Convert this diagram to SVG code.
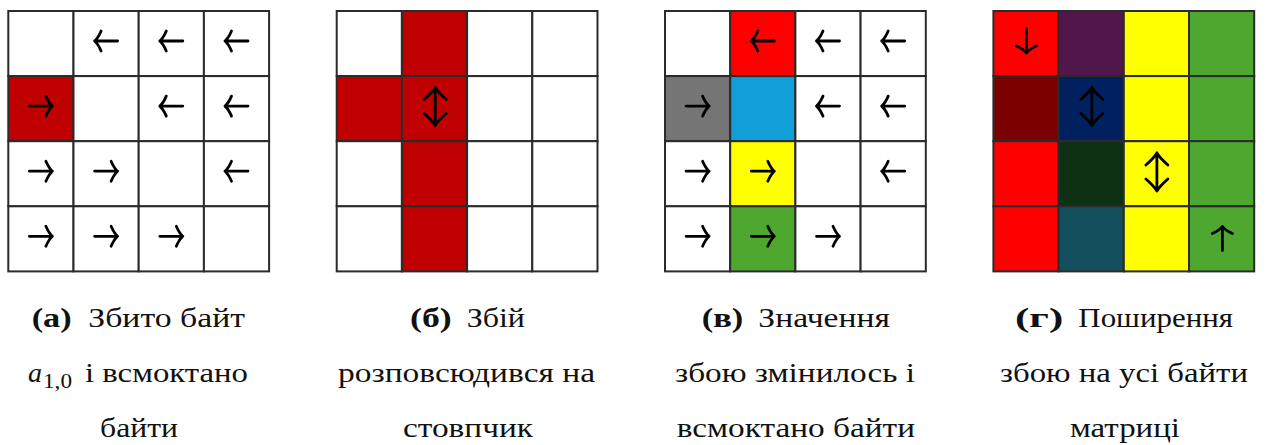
<svg xmlns="http://www.w3.org/2000/svg" width="1267" height="445" viewBox="0 0 1267 445">
  <style>
    .cell { stroke: #2b2b2b; stroke-width: 2; fill: #ffffff; }
    .arr { fill: none; stroke: #000000; stroke-width: 2.8; stroke-linecap: round; stroke-linejoin: round; }
    .cap text { font-family: 'Liberation Serif', 'DejaVu Serif', serif; font-size: 28px; fill: #111111; }
    .cap .lbl { font-weight: bold; }
    .cap .it { font-style: italic; }
    .cap .sub { font-size: 20px; }
  </style>
  <defs>
    <!-- arrow glyphs centred on the origin -->
    <path id="al" class="arr" d="M-5,-10 Q-8,-3 -11.5,0 Q-8,3 -5,10 M-11.5,0 H11.5"/>
    <path id="ar" class="arr" d="M5,-10 Q8,-3 11.5,0 Q8,3 5,10 M11.5,0 H-11.5"/>
    <path id="ad" class="arr" d="M-10,5 Q-3,8 0,12 Q3,8 10,5 M0,12 V-12"/>
    <path id="au" class="arr" d="M-10,-5 Q-3,-8 0,-12 Q3,-8 10,-5 M0,-12 V12"/>
    <path id="av" class="arr" d="M-11,-7 Q-3,-14 0,-19 Q3,-14 11,-7 M-11,7 Q-3,14 0,19 Q3,14 11,7 M0,-19 V19"/>
  </defs>

  <!-- panel (а): faulty byte a1,0 -->
  <g id="panel-a" transform="translate(8.3,11)">
    <g id="grid-a">
      <rect class="cell" x="0" y="0" width="65.2" height="65.1"/>
      <rect class="cell" x="65.2" y="0" width="65.2" height="65.1"/>
      <rect class="cell" x="130.4" y="0" width="65.2" height="65.1"/>
      <rect class="cell" x="195.6" y="0" width="65.2" height="65.1"/>
      <rect class="cell" x="0" y="65.1" width="65.2" height="65.1" style="fill:#c00000"/>
      <rect class="cell" x="65.2" y="65.1" width="65.2" height="65.1"/>
      <rect class="cell" x="130.4" y="65.1" width="65.2" height="65.1"/>
      <rect class="cell" x="195.6" y="65.1" width="65.2" height="65.1"/>
      <rect class="cell" x="0" y="130.2" width="65.2" height="65.1"/>
      <rect class="cell" x="65.2" y="130.2" width="65.2" height="65.1"/>
      <rect class="cell" x="130.4" y="130.2" width="65.2" height="65.1"/>
      <rect class="cell" x="195.6" y="130.2" width="65.2" height="65.1"/>
      <rect class="cell" x="0" y="195.3" width="65.2" height="65.1"/>
      <rect class="cell" x="65.2" y="195.3" width="65.2" height="65.1"/>
      <rect class="cell" x="130.4" y="195.3" width="65.2" height="65.1"/>
      <rect class="cell" x="195.6" y="195.3" width="65.2" height="65.1"/>
    </g>
    <g id="arrows-a">
      <use href="#al" x="97.8" y="30"/>
      <use href="#al" x="163" y="30"/>
      <use href="#al" x="228.2" y="30"/>
      <use href="#ar" x="32.6" y="95.1"/>
      <use href="#al" x="163" y="95.1"/>
      <use href="#al" x="228.2" y="95.1"/>
      <use href="#ar" x="32.6" y="160.2"/>
      <use href="#ar" x="97.8" y="160.2"/>
      <use href="#al" x="228.2" y="160.2"/>
      <use href="#ar" x="32.6" y="225.3"/>
      <use href="#ar" x="97.8" y="225.3"/>
      <use href="#ar" x="163" y="225.3"/>
    </g>
  </g>
  <g id="caption-a" class="cap">
    <text x="31.7" y="327" class="lbl" textLength="40" lengthAdjust="spacingAndGlyphs">(а)</text>
    <text x="88.3" y="327" textLength="156.7" lengthAdjust="spacingAndGlyphs">Збито байт</text>
    <text x="28" y="382" class="it" textLength="14" lengthAdjust="spacingAndGlyphs">a</text>
    <text x="43" y="388" class="sub" textLength="29" lengthAdjust="spacingAndGlyphs">1,0</text>
    <text x="85" y="382" textLength="163" lengthAdjust="spacingAndGlyphs">і всмоктано</text>
    <text x="100" y="437" textLength="78" lengthAdjust="spacingAndGlyphs">байти</text>
  </g>

  <!-- panel (б): fault spread over the column -->
  <g id="panel-b" transform="translate(336.7,11)">
    <g id="grid-b">
      <rect class="cell" x="0" y="0" width="65.2" height="65.1"/>
      <rect class="cell" x="65.2" y="0" width="65.2" height="65.1" style="fill:#c00000"/>
      <rect class="cell" x="130.4" y="0" width="65.2" height="65.1"/>
      <rect class="cell" x="195.6" y="0" width="65.2" height="65.1"/>
      <rect class="cell" x="0" y="65.1" width="65.2" height="65.1" style="fill:#c00000"/>
      <rect class="cell" x="65.2" y="65.1" width="65.2" height="65.1" style="fill:#c00000"/>
      <rect class="cell" x="130.4" y="65.1" width="65.2" height="65.1"/>
      <rect class="cell" x="195.6" y="65.1" width="65.2" height="65.1"/>
      <rect class="cell" x="0" y="130.2" width="65.2" height="65.1"/>
      <rect class="cell" x="65.2" y="130.2" width="65.2" height="65.1" style="fill:#c00000"/>
      <rect class="cell" x="130.4" y="130.2" width="65.2" height="65.1"/>
      <rect class="cell" x="195.6" y="130.2" width="65.2" height="65.1"/>
      <rect class="cell" x="0" y="195.3" width="65.2" height="65.1"/>
      <rect class="cell" x="65.2" y="195.3" width="65.2" height="65.1" style="fill:#c00000"/>
      <rect class="cell" x="130.4" y="195.3" width="65.2" height="65.1"/>
      <rect class="cell" x="195.6" y="195.3" width="65.2" height="65.1"/>
    </g>
    <g id="arrows-b">
      <use href="#av" x="98.5" y="95.5"/>
    </g>
  </g>
  <g id="caption-b" class="cap">
    <text x="410" y="327" class="lbl" textLength="41.7" lengthAdjust="spacingAndGlyphs">(б)</text>
    <text x="466.7" y="327" textLength="58.3" lengthAdjust="spacingAndGlyphs">Збій</text>
    <text x="338" y="382" textLength="257" lengthAdjust="spacingAndGlyphs">розповсюдився на</text>
    <text x="403" y="437" textLength="130" lengthAdjust="spacingAndGlyphs">стовпчик</text>
  </g>

  <!-- panel (в): fault value changed -->
  <g id="panel-c" transform="translate(665,11)">
    <g id="grid-c">
      <rect class="cell" x="0" y="0" width="65.2" height="65.1"/>
      <rect class="cell" x="65.2" y="0" width="65.2" height="65.1" style="fill:#ff0000"/>
      <rect class="cell" x="130.4" y="0" width="65.2" height="65.1"/>
      <rect class="cell" x="195.6" y="0" width="65.2" height="65.1"/>
      <rect class="cell" x="0" y="65.1" width="65.2" height="65.1" style="fill:#757575"/>
      <rect class="cell" x="65.2" y="65.1" width="65.2" height="65.1" style="fill:#129ed6"/>
      <rect class="cell" x="130.4" y="65.1" width="65.2" height="65.1"/>
      <rect class="cell" x="195.6" y="65.1" width="65.2" height="65.1"/>
      <rect class="cell" x="0" y="130.2" width="65.2" height="65.1"/>
      <rect class="cell" x="65.2" y="130.2" width="65.2" height="65.1" style="fill:#ffff00"/>
      <rect class="cell" x="130.4" y="130.2" width="65.2" height="65.1"/>
      <rect class="cell" x="195.6" y="130.2" width="65.2" height="65.1"/>
      <rect class="cell" x="0" y="195.3" width="65.2" height="65.1"/>
      <rect class="cell" x="65.2" y="195.3" width="65.2" height="65.1" style="fill:#4ea72e"/>
      <rect class="cell" x="130.4" y="195.3" width="65.2" height="65.1"/>
      <rect class="cell" x="195.6" y="195.3" width="65.2" height="65.1"/>
    </g>
    <g id="arrows-c">
      <use href="#al" x="97.8" y="30"/>
      <use href="#al" x="163" y="30"/>
      <use href="#al" x="228.2" y="30"/>
      <use href="#ar" x="32.6" y="95.1"/>
      <use href="#al" x="163" y="95.1"/>
      <use href="#al" x="228.2" y="95.1"/>
      <use href="#ar" x="32.6" y="160.2"/>
      <use href="#ar" x="97.8" y="160.2"/>
      <use href="#al" x="228.2" y="160.2"/>
      <use href="#ar" x="32.6" y="225.3"/>
      <use href="#ar" x="97.8" y="225.3"/>
      <use href="#ar" x="163" y="225.3"/>
    </g>
  </g>
  <g id="caption-c" class="cap">
    <text x="701.7" y="327" class="lbl" textLength="41.6" lengthAdjust="spacingAndGlyphs">(в)</text>
    <text x="758.3" y="327" textLength="131.7" lengthAdjust="spacingAndGlyphs">Значення</text>
    <text x="675" y="382" textLength="240" lengthAdjust="spacingAndGlyphs">збою змінилось і</text>
    <text x="676.7" y="437" textLength="238.3" lengthAdjust="spacingAndGlyphs">всмоктано байти</text>
  </g>

  <!-- panel (г): fault spread over the whole matrix -->
  <g id="panel-d" transform="translate(993.4,11)">
    <g id="grid-d">
      <rect class="cell" x="0" y="0" width="65.2" height="65.1" style="fill:#ff0000"/>
      <rect class="cell" x="65.2" y="0" width="65.2" height="65.1" style="fill:#51174a"/>
      <rect class="cell" x="130.4" y="0" width="65.2" height="65.1" style="fill:#ffff00"/>
      <rect class="cell" x="195.6" y="0" width="65.2" height="65.1" style="fill:#4ea72e"/>
      <rect class="cell" x="0" y="65.1" width="65.2" height="65.1" style="fill:#7b0000"/>
      <rect class="cell" x="65.2" y="65.1" width="65.2" height="65.1" style="fill:#002060"/>
      <rect class="cell" x="130.4" y="65.1" width="65.2" height="65.1" style="fill:#ffff00"/>
      <rect class="cell" x="195.6" y="65.1" width="65.2" height="65.1" style="fill:#4ea72e"/>
      <rect class="cell" x="0" y="130.2" width="65.2" height="65.1" style="fill:#ff0000"/>
      <rect class="cell" x="65.2" y="130.2" width="65.2" height="65.1" style="fill:#0d3012"/>
      <rect class="cell" x="130.4" y="130.2" width="65.2" height="65.1" style="fill:#ffff00"/>
      <rect class="cell" x="195.6" y="130.2" width="65.2" height="65.1" style="fill:#4ea72e"/>
      <rect class="cell" x="0" y="195.3" width="65.2" height="65.1" style="fill:#ff0000"/>
      <rect class="cell" x="65.2" y="195.3" width="65.2" height="65.1" style="fill:#134f5c"/>
      <rect class="cell" x="130.4" y="195.3" width="65.2" height="65.1" style="fill:#ffff00"/>
      <rect class="cell" x="195.6" y="195.3" width="65.2" height="65.1" style="fill:#4ea72e"/>
    </g>
    <g id="arrows-d">
      <use href="#ad" x="33" y="30"/>
      <use href="#av" x="98.5" y="95.5"/>
      <use href="#av" x="163.5" y="161"/>
      <use href="#au" x="229" y="227.5"/>
    </g>
  </g>
  <g id="caption-d" class="cap">
    <text x="1015" y="327" class="lbl" textLength="48.3" lengthAdjust="spacingAndGlyphs">(г)</text>
    <text x="1078.3" y="327" textLength="154.7" lengthAdjust="spacingAndGlyphs">Поширення</text>
    <text x="1000" y="382" textLength="248" lengthAdjust="spacingAndGlyphs">збою на усі байти</text>
    <text x="1070" y="437" textLength="110" lengthAdjust="spacingAndGlyphs">матриці</text>
  </g>
</svg>
